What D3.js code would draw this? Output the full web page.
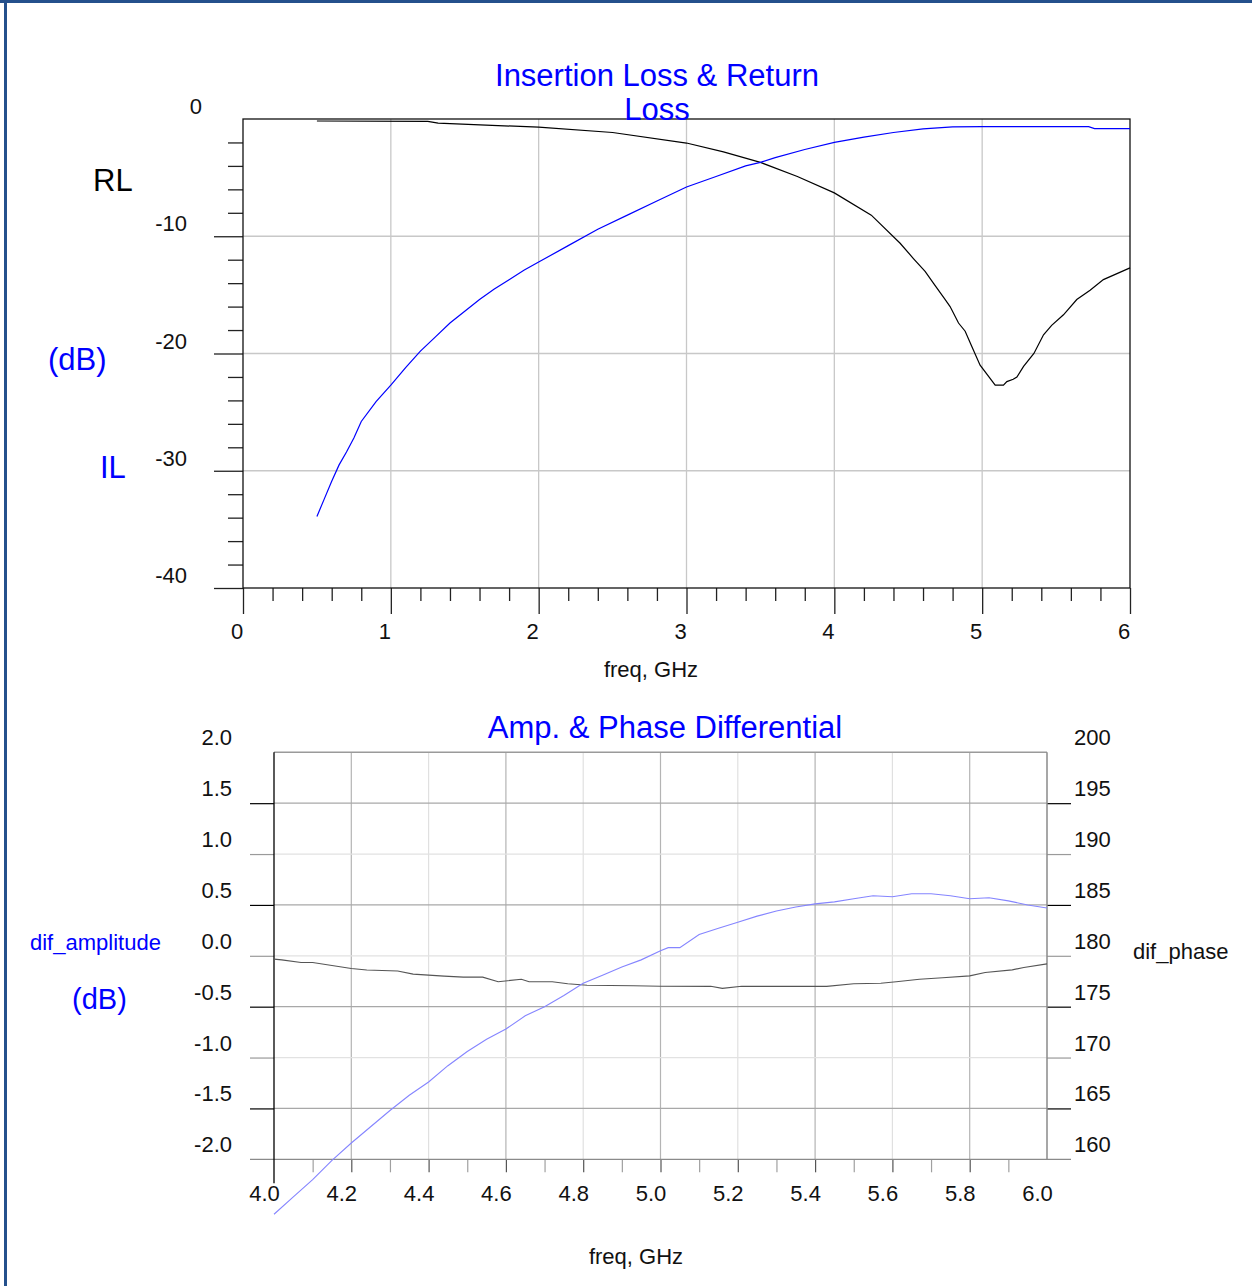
<!DOCTYPE html>
<html>
<head>
<meta charset="utf-8">
<script src="https://cdn.jsdelivr.net/npm/d3@7"></script>
<style>
  body { margin: 0; background: #fff; }
  svg { display: block; }
  text { font-family: "Liberation Sans", Arial, sans-serif; }
</style>
</head>
<body>
<script>
// ---------- top chart data ----------
const rlFreq = [0.50, 1.25, 1.32, 2.00, 2.50, 3.00, 3.25, 3.50, 3.75, 4.00, 4.25, 4.445, 4.535, 4.614, 4.67, 4.75, 4.783, 4.84, 4.885, 4.93, 4.986, 5.088, 5.144, 5.167, 5.21, 5.235, 5.28, 5.35, 5.415, 5.47, 5.55, 5.64, 5.73, 5.82, 6.00];
const rlDb   = [-0.17, -0.20, -0.35, -0.70, -1.15, -2.05, -2.80, -3.70, -4.90, -6.30, -8.20, -10.6, -11.9, -13.0, -14.0, -15.4, -16.0, -17.4, -18.1, -19.4, -21.0, -22.7, -22.7, -22.4, -22.2, -22.0, -21.1, -20.0, -18.4, -17.6, -16.7, -15.4, -14.6, -13.7, -12.7];

const ilFreq = [0.50, 0.55, 0.60, 0.65, 0.70, 0.75, 0.80, 0.90, 1.00, 1.10, 1.20, 1.30, 1.40, 1.50, 1.60, 1.70, 1.80, 1.90, 2.00, 2.20, 2.40, 2.60, 2.80, 3.00, 3.20, 3.40, 3.50, 3.60, 3.80, 4.00, 4.20, 4.40, 4.60, 4.80, 5.00, 5.50, 5.72, 5.76, 6.00];
const ilDb   = [-33.9, -32.4, -30.9, -29.5, -28.4, -27.2, -25.8, -24.1, -22.7, -21.2, -19.8, -18.6, -17.4, -16.4, -15.4, -14.5, -13.7, -12.9, -12.2, -10.8, -9.4, -8.2, -7.0, -5.8, -4.9, -4.0, -3.7, -3.3, -2.6, -2.0, -1.55, -1.15, -0.85, -0.68, -0.65, -0.65, -0.65, -0.82, -0.82];

const topXTicks = [0, 1, 2, 3, 4, 5, 6];
const topYTicks = [0, -10, -20, -30, -40];

// ---------- bottom chart data ----------
const ampFreq = [4.00, 4.02, 4.07, 4.10, 4.20, 4.24, 4.32, 4.36, 4.44, 4.49, 4.54, 4.58, 4.64, 4.66, 4.72, 4.76, 4.81, 4.93, 5.00, 5.13, 5.16, 5.21, 5.29, 5.37, 5.43, 5.50, 5.57, 5.61, 5.67, 5.73, 5.80, 5.84, 5.91, 5.94, 6.00];
const difAmp  = [-0.033, -0.04, -0.066, -0.066, -0.125, -0.14, -0.15, -0.18, -0.20, -0.21, -0.21, -0.255, -0.23, -0.255, -0.255, -0.275, -0.29, -0.295, -0.30, -0.30, -0.32, -0.30, -0.30, -0.30, -0.30, -0.275, -0.27, -0.255, -0.23, -0.215, -0.197, -0.164, -0.138, -0.115, -0.079];

const phaseFreq = [4.00, 4.05, 4.10, 4.15, 4.20, 4.25, 4.30, 4.35, 4.40, 4.45, 4.50, 4.55, 4.60, 4.65, 4.70, 4.75, 4.80, 4.85, 4.90, 4.95, 5.00, 5.02, 5.05, 5.10, 5.15, 5.20, 5.25, 5.30, 5.35, 5.40, 5.45, 5.50, 5.55, 5.60, 5.65, 5.70, 5.75, 5.80, 5.85, 5.90, 5.95, 6.00];
const difPhase  = [154.6, 156.3, 158.0, 159.9, 161.6, 163.2, 164.8, 166.3, 167.6, 169.2, 170.6, 171.8, 172.8, 174.1, 175.0, 176.1, 177.3, 178.1, 178.9, 179.6, 180.5, 180.8, 180.8, 182.1, 182.7, 183.3, 183.9, 184.4, 184.8, 185.1, 185.3, 185.6, 185.9, 185.8, 186.1, 186.1, 185.9, 185.6, 185.7, 185.4, 185.0, 184.7];

const ampTicks   = [2.0, 1.5, 1.0, 0.5, 0.0, -0.5, -1.0, -1.5, -2.0];
const phaseTicks = [200, 195, 190, 185, 180, 175, 170, 165, 160];
const botXTicks  = [4.0, 4.2, 4.4, 4.6, 4.8, 5.0, 5.2, 5.4, 5.6, 5.8, 6.0];

const svg = d3.select("body").append("svg")
    .attr("width", 1252)
    .attr("height", 1286);

// blue frame round the page (top and left edges show)
svg.append("rect").attr("x", 0).attr("y", 0).attr("width", 1252).attr("height", 3).attr("fill", "#24508c");
svg.append("rect").attr("x", 4).attr("y", 0).attr("width", 3).attr("height", 1286).attr("fill", "#24508c");

/************************** TOP CHART ****************************************/
const xT = d3.scaleLinear().domain([0, 6]).range([243, 1130]);
const yT = d3.scaleLinear().domain([-40, 0]).range([588, 119]);

const topG = svg.append("g");

// grid
topG.selectAll(".vgrid").data(topXTicks.slice(1, -1)).join("line")
    .attr("x1", d => xT(d)).attr("x2", d => xT(d))
    .attr("y1", yT(0)).attr("y2", yT(-40))
    .attr("stroke", "#c8c8c8").attr("stroke-width", 1.3);
topG.selectAll(".hgrid").data(topYTicks.slice(1, -1)).join("line")
    .attr("x1", xT(0)).attr("x2", xT(6))
    .attr("y1", d => yT(d)).attr("y2", d => yT(d))
    .attr("stroke", "#c8c8c8").attr("stroke-width", 1.3);

function plainTicks(g, color) {
    g.select(".domain").remove();
    g.selectAll("line").attr("stroke", color).attr("stroke-width", 1.3);
}

// y ticks: minor every 2 dB, major every 10
topG.append("g").attr("transform", `translate(${xT(0)},0)`)
    .call(d3.axisLeft(yT).tickValues(d3.range(-38, 0, 2).filter(d => d % 10 !== 0)).tickSize(15).tickFormat(""))
    .call(g => plainTicks(g, "#222"));
topG.append("g").attr("transform", `translate(${xT(0)},0)`)
    .call(d3.axisLeft(yT).tickValues(topYTicks.slice(1)).tickSize(29).tickFormat(""))
    .call(g => plainTicks(g, "#222"));

// x ticks: minor every 0.2, major every 1
topG.append("g").attr("transform", `translate(0,${yT(-40)})`)
    .call(d3.axisBottom(xT).tickValues(d3.range(1, 30).filter(i => i % 5 !== 0).map(i => i / 5)).tickSize(13).tickFormat(""))
    .call(g => plainTicks(g, "#222"));
topG.append("g").attr("transform", `translate(0,${yT(-40)})`)
    .call(d3.axisBottom(xT).tickValues(topXTicks).tickSize(26).tickFormat(""))
    .call(g => plainTicks(g, "#222"));

// plot border
topG.append("rect")
    .attr("x", xT(0)).attr("y", yT(0))
    .attr("width", xT(6) - xT(0)).attr("height", yT(-40) - yT(0))
    .attr("fill", "none").attr("stroke", "#111").attr("stroke-width", 1.3);

// tick labels
topG.selectAll(".ylab").data(topYTicks).join("text")
    .attr("x", d => d === 0 ? 202 : 187)
    .attr("y", d => yT(d) - 5)
    .attr("text-anchor", "end").attr("font-size", 22).attr("fill", "#111")
    .text(d => d);
topG.selectAll(".xlab").data(topXTicks).join("text")
    .attr("x", d => xT(d) - 6)
    .attr("y", 639)
    .attr("text-anchor", "middle").attr("font-size", 22).attr("fill", "#111")
    .text(d => d);

// curves
const lineT = d3.line().x(d => xT(d[0])).y(d => yT(d[1]));
topG.append("path").datum(d3.zip(rlFreq, rlDb))
    .attr("d", lineT).attr("fill", "none").attr("stroke", "#000").attr("stroke-width", 1.2);
topG.append("path").datum(d3.zip(ilFreq, ilDb))
    .attr("d", lineT).attr("fill", "none").attr("stroke", "#0000ff").attr("stroke-width", 1.2);

// titles and axis names
topG.append("text").attr("x", 657).attr("y", 86).attr("text-anchor", "middle")
    .attr("font-size", 31).attr("fill", "#0000ff").text("Insertion Loss & Return");
topG.append("text").attr("x", 657).attr("y", 120).attr("text-anchor", "middle")
    .attr("font-size", 31).attr("fill", "#0000ff").text("Loss");
topG.append("text").attr("x", 93).attr("y", 191).attr("font-size", 31).attr("fill", "#000").text("RL");
topG.append("text").attr("x", 48).attr("y", 370).attr("font-size", 31).attr("fill", "#0000ff").text("(dB)");
topG.append("text").attr("x", 100).attr("y", 478).attr("font-size", 31).attr("fill", "#0000ff").text("IL");
topG.append("text").attr("x", 651).attr("y", 677).attr("text-anchor", "middle")
    .attr("font-size", 22).attr("fill", "#111").text("freq, GHz");

/************************** BOTTOM CHART *************************************/
const xB = d3.scaleLinear().domain([4, 6]).range([274, 1047]);
const yA = d3.scaleLinear().domain([-2, 2]).range([1159.3, 752.3]);
const yP = d3.scaleLinear().domain([160, 200]).range([1159.3, 752.3]);

const botG = svg.append("g");

// vertical grid
botG.selectAll(".vgrid").data(botXTicks.slice(1, -1)).join("line")
    .attr("x1", d => xB(d)).attr("x2", d => xB(d))
    .attr("y1", yA(2)).attr("y2", yA(-2))
    .attr("stroke", (d, i) => i % 2 === 0 ? "#b4b4b4" : "#e0e0e0").attr("stroke-width", 1.2);

// horizontal grid, extended 24px out on both sides
const hVals = ampTicks.slice(1, -1);
botG.selectAll(".hgrid").data(hVals).join("line")
    .attr("x1", xB(4)).attr("x2", xB(6))
    .attr("y1", d => yA(d)).attr("y2", d => yA(d))
    .attr("stroke", (d, i) => i % 2 === 0 ? "#a8a8a8" : "#e2e2e2").attr("stroke-width", 1.2);
botG.append("g").attr("transform", `translate(${xB(4)},0)`)
    .call(d3.axisLeft(yA).tickValues(hVals).tickSize(24).tickFormat(""))
    .call(g => g.select(".domain").remove())
    .call(g => g.selectAll(".tick line").attr("stroke", d => (Math.abs(d * 2) % 2 === 1) ? "#000" : "#9a9a9a").attr("stroke-width", 1.2));
botG.append("g").attr("transform", `translate(${xB(6)},0)`)
    .call(d3.axisRight(yP).tickValues(phaseTicks.slice(1, -1)).tickSize(24).tickFormat(""))
    .call(g => g.select(".domain").remove())
    .call(g => g.selectAll(".tick line").attr("stroke", d => (d % 10 === 5) ? "#000" : "#9a9a9a").attr("stroke-width", 1.2));

// x ticks every 0.1 below the axis
botG.append("g").attr("transform", `translate(0,${yA(-2)})`)
    .call(d3.axisBottom(xB).tickValues(d3.range(41, 60).map(i => i / 10)).tickSize(13).tickFormat(""))
    .call(g => g.select(".domain").remove())
    .call(g => g.selectAll(".tick line").attr("stroke", (d, i) => i % 2 === 1 ? "#555" : "#a0a0a0").attr("stroke-width", 1.2));

// plot frame: grey top / right / bottom, black left axis running down as 4.0 tick
botG.append("line").attr("x1", xB(4)).attr("x2", xB(6)).attr("y1", yA(2)).attr("y2", yA(2))
    .attr("stroke", "#9a9a9a").attr("stroke-width", 1.5);
botG.append("line").attr("x1", xB(6)).attr("x2", xB(6)).attr("y1", yA(2)).attr("y2", yA(-2))
    .attr("stroke", "#8a8a8a").attr("stroke-width", 1.5);
botG.append("line").attr("x1", xB(4) - 24).attr("x2", xB(6) + 24).attr("y1", yA(-2)).attr("y2", yA(-2))
    .attr("stroke", "#8a8a8a").attr("stroke-width", 1.3);
botG.append("line").attr("x1", xB(4)).attr("x2", xB(4)).attr("y1", yA(2)).attr("y2", yA(-2) + 24)
    .attr("stroke", "#000").attr("stroke-width", 1.3);

// tick labels
botG.selectAll(".alab").data(ampTicks).join("text")
    .attr("x", 232).attr("y", d => yA(d) - 7)
    .attr("text-anchor", "end").attr("font-size", 22).attr("fill", "#111")
    .text(d => d.toFixed(1));
botG.selectAll(".plab").data(phaseTicks).join("text")
    .attr("x", 1074).attr("y", d => yP(d) - 7)
    .attr("font-size", 22).attr("fill", "#111")
    .text(d => d);
botG.selectAll(".xlab").data(botXTicks).join("text")
    .attr("x", d => xB(d) - 9.5).attr("y", 1201)
    .attr("text-anchor", "middle").attr("font-size", 22).attr("fill", "#111")
    .text(d => d.toFixed(1));

// curves
botG.append("path").datum(d3.zip(ampFreq, difAmp))
    .attr("d", d3.line().x(d => xB(d[0])).y(d => yA(d[1])))
    .attr("fill", "none").attr("stroke", "#555").attr("stroke-width", 1.1);
botG.append("path").datum(d3.zip(phaseFreq, difPhase))
    .attr("d", d3.line().x(d => xB(d[0])).y(d => yP(d[1])))
    .attr("fill", "none").attr("stroke", "#8585ff").attr("stroke-width", 1.1);

// titles and axis names
botG.append("text").attr("x", 665).attr("y", 738).attr("text-anchor", "middle")
    .attr("font-size", 31).attr("fill", "#0000ff").text("Amp. & Phase Differential");
botG.append("text").attr("x", 30).attr("y", 950).attr("font-size", 22).attr("fill", "#0000ff").text("dif_amplitude");
botG.append("text").attr("x", 72).attr("y", 1009).attr("font-size", 29).attr("fill", "#0000ff").text("(dB)");
botG.append("text").attr("x", 1133).attr("y", 959).attr("font-size", 22).attr("fill", "#111").text("dif_phase");
botG.append("text").attr("x", 636).attr("y", 1264).attr("text-anchor", "middle")
    .attr("font-size", 22).attr("fill", "#111").text("freq, GHz");
</script>
</body>
</html>
